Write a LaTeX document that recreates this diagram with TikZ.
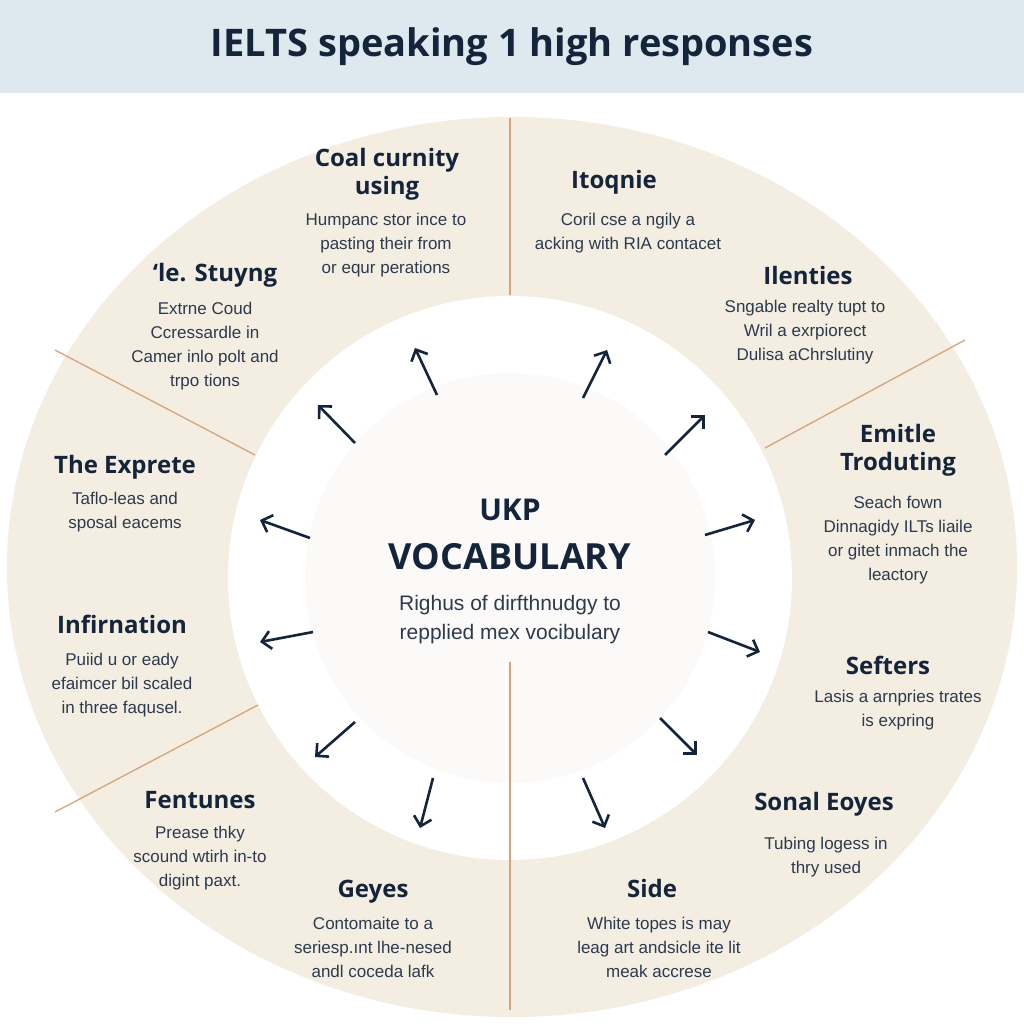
\documentclass[tikz,border=0pt]{standalone}
\usepackage{fontspec}
\setmainfont{Liberation Sans}
\newfontfamily\headf{Open Sans}
\usetikzlibrary{arrows.meta}
\definecolor{navy}{HTML}{14243A}
\definecolor{beige}{HTML}{F4EDE2}
\definecolor{tan}{HTML}{D4A57C}
\definecolor{titlebg}{HTML}{DEE8EF}
\tikzset{
 hd/.style={font=\headf\fontsize{24}{28}\selectfont\bfseries, text=navy, align=center},
 bd/.style={font=\fontsize{17}{24}\selectfont, text=navy!90, align=center},
 arr/.style={draw=navy, line width=2.6pt, -{Straight Barb[length=9pt,width=18pt]}},
 divl/.style={draw=tan, line width=1.3pt}
}
\begin{document}
\begin{tikzpicture}[x=1pt,y=-1pt]
\useasboundingbox (0,0) rectangle (1024,1024);
\fill[white] (0,0) rectangle (1024,1024);
\fill[titlebg] (0,0) rectangle (1024,93);
\node[font=\headf\fontsize{38}{42}\selectfont\bfseries, text=navy] (title) at (512,47) {IELTS speaking 1 high responses};
\fill[beige] (512,567) ellipse [x radius=505, y radius=450];
\fill[white] (510,578) circle (282);
\fill[beige!25] (510,578) circle (205);
\draw[divl] (510,118) -- (510,295);
\draw[divl] (510,662) -- (510,1010);
\draw[divl] (55,350) -- (255,455);
\draw[divl] (55,812) -- (258,705);
\draw[divl] (765,448) -- (965,340);
% center
\node[hd, font=\headf\fontsize{30}{34}\selectfont\bfseries] (ukp) at (510,510) {UKP};
\node[hd, font=\headf\fontsize{36}{40}\selectfont\bfseries] (voc) at (510,557) {VOCABULARY};
\node[bd, font=\fontsize{21}{29}\selectfont] (cdesc) at (510,620) {Righus of dirfthnudgy to\\repplied mex vocibulary};
% texts
\node[hd] (h1) at (387,174) {Coal curnity\\using};
\node[bd] (b1) at (386,245) {Humpanc stor ince to\\pasting their from\\or equr perations};
\node[hd] (h2) at (614,182) {Itoqnie};
\node[bd] (b2) at (628,233) {Coril cse a ngily a\\acking with RIA contacet};
\node[hd] (h3) at (215,275) {‘le. Stuyng};
\node[bd] (b3) at (205,346) {Extrne Coud\\Ccressardle in\\Camer inlo polt and\\trpo tions};
\node[hd] (h4) at (808,275) {Ilenties};
\node[bd] (b4) at (805,332) {Sngable realty tupt to\\Wril a exrpiorect\\Dulisa aChrslutiny};
\node[hd] (h5) at (125,467) {The Exprete};
\node[bd] (b5) at (125,512) {Taflo-leas and\\sposal eacems};
\node[hd] (h6) at (898,450) {Emitle\\Troduting};
\node[bd] (b6) at (898,540) {Seach fown\\Dinnagidy ILTs liaile\\or gitet inmach the\\leactory};
\node[hd] (h7) at (122,624) {Infirnation};
\node[bd] (b7) at (122,685) {Puiid u or eady\\efaimcer bil scaled\\in three faqusel.};
\node[hd] (h8) at (888,665) {Sefters};
\node[bd] (b8) at (898,710) {Lasis a arnpries trates\\is expring};
\node[hd] (h9) at (200,800) {Fentunes};
\node[bd] (b9) at (200,858) {Prease thky\\scound wtirh in-to\\digint paxt.};
\node[hd] (h10) at (824,804) {Sonal Eoyes};
\node[bd] (b10) at (826,857) {Tubing logess in\\thry used};
\node[hd] (h11) at (373,892) {Geyes};
\node[bd] (b11) at (373,947) {Contomaite to a\\seriesp.ınt lhe-nesed\\andl coceda lafk};
\node[hd] (h12) at (652,888) {Side};
\node[bd] (b12) at (659,947) {White topes is may\\leag art andsicle ite lit\\meak accrese};
% arrows
\foreach \n/\a/\b/\c/\d in {1/437/395/415/348, 2/355/443/318/405, 3/310/538/260/520, 4/313/632/260/642, 5/355/722/315/757, 6/433/778/420/828, 7/583/778/605/828, 8/660/718/697/755, 9/708/632/760/652, 10/705/535/755/520, 11/665/455/705/415, 12/583/398/607/350}{
 \coordinate (s\n) at (\a,\b); \coordinate (e\n) at (\c,\d);
 \draw[arr] (s\n) -- (e\n);
}
\end{tikzpicture}
\end{document}
